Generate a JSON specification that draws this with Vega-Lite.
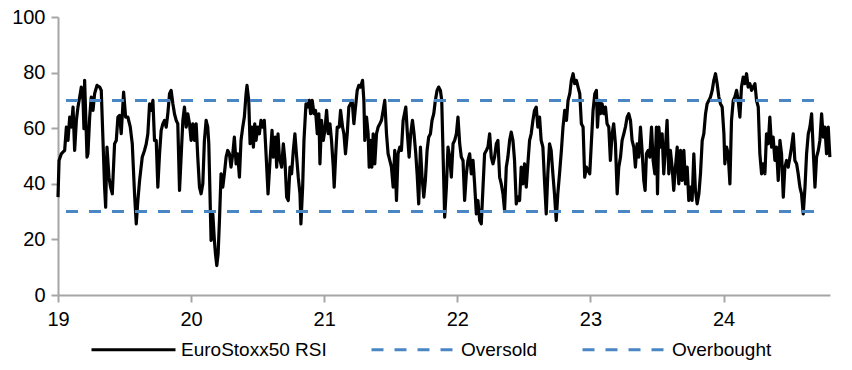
{
  "$schema": "https://vega.github.io/schema/vega-lite/v6.json",
  "width": 772,
  "height": 278,
  "autosize": {"type": "none"},
  "padding": {"left": 58, "top": 17, "right": 22, "bottom": 75},
  "background": "#ffffff",
  "config": {
    "view": {"stroke": null},
    "axis": {
      "grid": false,
      "domainColor": "#a6a6a6",
      "domainWidth": 2,
      "tickColor": "#a6a6a6",
      "tickWidth": 2,
      "tickSize": 7,
      "labelFont": "Liberation Sans",
      "labelFontSize": 20,
      "labelColor": "#000000",
      "title": null
    },
    "legend": {
      "labelFont": "Liberation Sans",
      "labelFontSize": 19,
      "labelColor": "#000000"
    }
  },
  "datasets": {
    "rsi": [
      {"t":19.000,"v":35.2},{"t":19.008,"v":48.4},{"t":19.025,"v":50.8},{"t":19.050,"v":52.0},{"t":19.063,"v":60.4},{"t":19.075,"v":55.6},{"t":19.088,"v":64.0},{"t":19.100,"v":60.4},{"t":19.113,"v":67.6},{"t":19.125,"v":52.0},{"t":19.138,"v":62.8},{"t":19.150,"v":67.6},{"t":19.163,"v":71.2},{"t":19.175,"v":74.8},{"t":19.188,"v":70.0},{"t":19.195,"v":59.8},{"t":19.200,"v":77.2},{"t":19.218,"v":49.6},{"t":19.225,"v":50.8},{"t":19.238,"v":64.0},{"t":19.250,"v":71.2},{"t":19.263,"v":66.4},{"t":19.275,"v":72.4},{"t":19.293,"v":75.4},{"t":19.313,"v":74.8},{"t":19.325,"v":73.6},{"t":19.338,"v":55.6},{"t":19.350,"v":38.8},{"t":19.358,"v":31.6},{"t":19.368,"v":53.2},{"t":19.383,"v":42.4},{"t":19.395,"v":38.8},{"t":19.408,"v":36.4},{"t":19.425,"v":54.4},{"t":19.438,"v":55.6},{"t":19.450,"v":64.0},{"t":19.463,"v":64.6},{"t":19.475,"v":58.0},{"t":19.493,"v":73.0},{"t":19.508,"v":64.0},{"t":19.525,"v":64.0},{"t":19.543,"v":60.4},{"t":19.558,"v":54.4},{"t":19.575,"v":36.4},{"t":19.588,"v":25.6},{"t":19.600,"v":34.0},{"t":19.613,"v":41.2},{"t":19.633,"v":49.6},{"t":19.650,"v":52.0},{"t":19.663,"v":54.4},{"t":19.675,"v":58.0},{"t":19.688,"v":68.8},{"t":19.700,"v":66.4},{"t":19.713,"v":70.0},{"t":19.725,"v":55.6},{"t":19.738,"v":55.6},{"t":19.750,"v":38.8},{"t":19.763,"v":50.8},{"t":19.775,"v":59.2},{"t":19.788,"v":61.6},{"t":19.800,"v":62.8},{"t":19.813,"v":60.4},{"t":19.825,"v":65.2},{"t":19.838,"v":72.4},{"t":19.850,"v":73.6},{"t":19.863,"v":68.8},{"t":19.875,"v":65.2},{"t":19.888,"v":62.8},{"t":19.900,"v":61.6},{"t":19.913,"v":37.6},{"t":19.925,"v":49.6},{"t":19.938,"v":62.8},{"t":19.950,"v":67.6},{"t":19.963,"v":60.4},{"t":19.975,"v":65.2},{"t":19.988,"v":61.6},{"t":20.000,"v":55.6},{"t":20.013,"v":61.6},{"t":20.025,"v":55.6},{"t":20.038,"v":61.6},{"t":20.050,"v":49.6},{"t":20.063,"v":38.8},{"t":20.075,"v":36.4},{"t":20.088,"v":40.0},{"t":20.100,"v":55.6},{"t":20.113,"v":62.8},{"t":20.125,"v":60.4},{"t":20.133,"v":54.4},{"t":20.143,"v":34.0},{"t":20.150,"v":19.6},{"t":20.163,"v":29.2},{"t":20.175,"v":19.6},{"t":20.183,"v":14.8},{"t":20.193,"v":10.6},{"t":20.203,"v":14.8},{"t":20.213,"v":26.8},{"t":20.225,"v":43.6},{"t":20.238,"v":38.8},{"t":20.250,"v":43.6},{"t":20.263,"v":49.6},{"t":20.275,"v":52.0},{"t":20.288,"v":50.8},{"t":20.300,"v":46.0},{"t":20.313,"v":50.8},{"t":20.325,"v":56.8},{"t":20.338,"v":47.2},{"t":20.350,"v":50.8},{"t":20.363,"v":42.4},{"t":20.375,"v":55.6},{"t":20.388,"v":60.4},{"t":20.400,"v":64.0},{"t":20.413,"v":72.4},{"t":20.420,"v":75.4},{"t":20.433,"v":70.0},{"t":20.443,"v":54.4},{"t":20.458,"v":60.4},{"t":20.468,"v":53.2},{"t":20.478,"v":61.6},{"t":20.488,"v":55.6},{"t":20.500,"v":60.4},{"t":20.513,"v":58.0},{"t":20.525,"v":62.8},{"t":20.538,"v":60.4},{"t":20.550,"v":62.8},{"t":20.563,"v":50.8},{"t":20.578,"v":36.4},{"t":20.593,"v":48.4},{"t":20.608,"v":59.2},{"t":20.618,"v":49.6},{"t":20.633,"v":56.8},{"t":20.643,"v":46.0},{"t":20.653,"v":58.0},{"t":20.663,"v":49.6},
      {"t":20.680,"v":46.0},{"t":20.693,"v":54.4},{"t":20.705,"v":48.4},{"t":20.718,"v":35.2},{"t":20.730,"v":34.0},{"t":20.743,"v":46.0},{"t":20.755,"v":43.6},{"t":20.768,"v":52.0},{"t":20.780,"v":58.0},{"t":20.793,"v":49.6},{"t":20.805,"v":42.4},{"t":20.818,"v":36.4},{"t":20.825,"v":25.6},{"t":20.838,"v":38.8},{"t":20.848,"v":55.6},{"t":20.863,"v":68.8},{"t":20.873,"v":67.6},{"t":20.888,"v":70.0},{"t":20.898,"v":65.2},{"t":20.910,"v":70.0},{"t":20.923,"v":65.2},{"t":20.935,"v":66.4},{"t":20.948,"v":58.0},{"t":20.960,"v":65.2},{"t":20.968,"v":47.2},{"t":20.980,"v":62.8},{"t":20.993,"v":55.6},{"t":21.005,"v":59.2},{"t":21.018,"v":66.4},{"t":21.030,"v":58.0},{"t":21.043,"v":61.6},{"t":21.055,"v":55.6},{"t":21.068,"v":46.0},{"t":21.075,"v":38.8},{"t":21.088,"v":52.0},{"t":21.098,"v":60.4},{"t":21.113,"v":60.4},{"t":21.123,"v":66.4},{"t":21.138,"v":60.4},{"t":21.148,"v":58.0},{"t":21.160,"v":50.8},{"t":21.173,"v":58.0},{"t":21.185,"v":67.6},{"t":21.198,"v":68.8},{"t":21.210,"v":70.0},{"t":21.223,"v":61.6},{"t":21.235,"v":67.6},{"t":21.248,"v":73.6},{"t":21.260,"v":75.4},{"t":21.273,"v":74.8},{"t":21.288,"v":77.2},{"t":21.298,"v":70.0},{"t":21.305,"v":55.6},{"t":21.318,"v":64.0},{"t":21.330,"v":58.0},{"t":21.338,"v":46.0},{"t":21.348,"v":55.6},{"t":21.358,"v":46.0},{"t":21.368,"v":58.0},{"t":21.380,"v":47.2},{"t":21.393,"v":58.0},{"t":21.405,"v":60.4},{"t":21.418,"v":61.6},{"t":21.430,"v":62.8},{"t":21.443,"v":66.4},{"t":21.455,"v":70.0},{"t":21.468,"v":58.0},{"t":21.480,"v":50.8},{"t":21.493,"v":48.4},{"t":21.505,"v":46.0},{"t":21.518,"v":38.8},{"t":21.530,"v":52.0},{"t":21.543,"v":34.0},{"t":21.555,"v":50.8},{"t":21.568,"v":53.2},{"t":21.580,"v":52.0},{"t":21.593,"v":62.8},{"t":21.613,"v":67.6},{"t":21.625,"v":58.0},{"t":21.638,"v":49.6},{"t":21.650,"v":58.0},{"t":21.663,"v":62.8},{"t":21.675,"v":58.0},{"t":21.688,"v":50.8},{"t":21.698,"v":43.6},{"t":21.710,"v":32.8},{"t":21.723,"v":53.2},{"t":21.735,"v":42.4},{"t":21.748,"v":35.2},{"t":21.760,"v":41.2},{"t":21.773,"v":52.0},{"t":21.785,"v":56.8},{"t":21.798,"v":58.0},{"t":21.810,"v":62.8},{"t":21.823,"v":65.2},{"t":21.835,"v":70.0},{"t":21.848,"v":73.6},{"t":21.860,"v":74.8},{"t":21.873,"v":73.6},{"t":21.883,"v":70.0},{"t":21.893,"v":50.8},{"t":21.905,"v":28.0},{"t":21.918,"v":38.8},{"t":21.930,"v":53.2},{"t":21.943,"v":49.6},{"t":21.955,"v":42.4},{"t":21.968,"v":54.4},{"t":21.980,"v":55.6},{"t":21.993,"v":58.0},{"t":22.005,"v":64.0},{"t":22.018,"v":54.4},{"t":22.030,"v":49.6},{"t":22.043,"v":48.4},{"t":22.055,"v":34.0},{"t":22.068,"v":43.6},{"t":22.080,"v":48.4},{"t":22.093,"v":50.8},{"t":22.105,"v":43.6},{"t":22.118,"v":48.4},{"t":22.130,"v":40.0},{"t":22.143,"v":29.2},{"t":22.155,"v":34.0},{"t":22.168,"v":26.8},{"t":22.180,"v":25.6},{"t":22.193,"v":38.8},{"t":22.205,"v":50.8},{"t":22.218,"v":52.0},{"t":22.230,"v":53.2},{"t":22.243,"v":58.0},{"t":22.255,"v":49.6},{"t":22.268,"v":47.2},{"t":22.280,"v":49.6},{"t":22.293,"v":54.4},{"t":22.305,"v":55.6},{"t":22.318,"v":42.4},{"t":22.330,"v":40.0},{"t":22.343,"v":36.4},{"t":22.355,"v":30.4},{"t":22.368,"v":46.0},{"t":22.380,"v":49.6},{"t":22.393,"v":55.6},{"t":22.405,"v":58.6},{"t":22.418,"v":55.6},{"t":22.430,"v":48.4},{"t":22.443,"v":32.8},{"t":22.455,"v":35.2},{"t":22.468,"v":34.0},{"t":22.480,"v":46.0},{"t":22.493,"v":40.0},{"t":22.505,"v":47.2},{"t":22.518,"v":38.8},{"t":22.530,"v":47.2},{"t":22.543,"v":55.6},{"t":22.555,"v":58.0},{"t":22.568,"v":62.8},{"t":22.580,"v":66.4},{"t":22.593,"v":67.6},{"t":22.605,"v":60.4},{"t":22.618,"v":64.0},{"t":22.630,"v":55.6},{"t":22.643,"v":53.2},{"t":22.655,"v":41.2},{"t":22.668,"v":29.2},{"t":22.680,"v":43.6},{"t":22.693,"v":54.4},{"t":22.705,"v":52.0},{"t":22.718,"v":43.6},{"t":22.730,"v":36.4},{"t":22.743,"v":26.8},{"t":22.755,"v":36.4},{"t":22.768,"v":43.6},
      {"t":22.782,"v":52.0},{"t":22.794,"v":60.4},{"t":22.807,"v":66.4},{"t":22.820,"v":62.8},{"t":22.832,"v":70.0},{"t":22.845,"v":72.4},{"t":22.857,"v":77.2},{"t":22.870,"v":79.6},{"t":22.882,"v":76.0},{"t":22.895,"v":77.2},{"t":22.907,"v":74.8},{"t":22.920,"v":72.4},{"t":22.932,"v":61.6},{"t":22.945,"v":60.4},{"t":22.957,"v":42.4},{"t":22.970,"v":46.0},{"t":22.982,"v":44.8},{"t":22.995,"v":43.6},{"t":23.008,"v":55.6},{"t":23.020,"v":66.4},{"t":23.033,"v":72.4},{"t":23.045,"v":73.6},{"t":23.053,"v":60.4},{"t":23.065,"v":70.0},{"t":23.075,"v":65.2},{"t":23.088,"v":68.8},{"t":23.100,"v":65.2},{"t":23.113,"v":67.6},{"t":23.125,"v":61.6},{"t":23.138,"v":60.4},{"t":23.150,"v":48.4},{"t":23.163,"v":58.0},{"t":23.175,"v":61.6},{"t":23.188,"v":54.4},{"t":23.201,"v":36.4},{"t":23.213,"v":46.0},{"t":23.226,"v":49.6},{"t":23.238,"v":55.6},{"t":23.251,"v":58.0},{"t":23.263,"v":60.4},{"t":23.276,"v":64.0},{"t":23.288,"v":65.2},{"t":23.301,"v":62.8},{"t":23.313,"v":55.6},{"t":23.326,"v":53.2},{"t":23.338,"v":46.0},{"t":23.351,"v":54.4},{"t":23.363,"v":49.6},{"t":23.376,"v":60.4},{"t":23.388,"v":52.0},{"t":23.401,"v":41.2},{"t":23.411,"v":37.6},{"t":23.421,"v":50.8},{"t":23.434,"v":52.0},{"t":23.446,"v":49.6},{"t":23.459,"v":60.4},{"t":23.471,"v":48.4},{"t":23.484,"v":43.6},{"t":23.496,"v":60.4},{"t":23.504,"v":36.4},{"t":23.514,"v":60.4},{"t":23.526,"v":53.2},{"t":23.539,"v":58.0},{"t":23.551,"v":43.6},{"t":23.564,"v":53.2},{"t":23.576,"v":62.8},{"t":23.589,"v":43.6},{"t":23.601,"v":52.0},{"t":23.614,"v":46.0},{"t":23.626,"v":37.6},{"t":23.639,"v":46.0},{"t":23.652,"v":53.2},{"t":23.664,"v":40.0},{"t":23.677,"v":52.0},{"t":23.689,"v":41.2},{"t":23.702,"v":52.0},{"t":23.714,"v":40.0},{"t":23.727,"v":46.0},{"t":23.739,"v":34.0},{"t":23.752,"v":38.8},{"t":23.764,"v":34.0},{"t":23.777,"v":50.8},{"t":23.789,"v":37.6},{"t":23.802,"v":32.8},{"t":23.815,"v":36.4},{"t":23.827,"v":43.6},{"t":23.840,"v":55.6},{"t":23.852,"v":58.0},{"t":23.865,"v":65.2},{"t":23.877,"v":68.8},{"t":23.890,"v":70.0},{"t":23.902,"v":71.2},{"t":23.915,"v":73.6},{"t":23.927,"v":77.2},{"t":23.940,"v":79.6},{"t":23.952,"v":76.0},{"t":23.965,"v":71.2},{"t":23.977,"v":68.8},{"t":23.990,"v":67.6},{"t":24.003,"v":58.0},{"t":24.010,"v":47.2},{"t":24.023,"v":53.2},{"t":24.035,"v":50.8},{"t":24.048,"v":40.0},{"t":24.060,"v":62.8},{"t":24.073,"v":70.0},{"t":24.085,"v":71.2},{"t":24.098,"v":73.6},{"t":24.110,"v":70.0},{"t":24.123,"v":64.0},{"t":24.135,"v":74.8},{"t":24.148,"v":78.4},{"t":24.160,"v":76.0},{"t":24.173,"v":79.6},{"t":24.185,"v":74.8},{"t":24.198,"v":76.0},{"t":24.211,"v":73.6},{"t":24.223,"v":74.8},{"t":24.236,"v":76.0},{"t":24.248,"v":70.0},{"t":24.261,"v":67.6},{"t":24.273,"v":50.8},{"t":24.286,"v":43.6},{"t":24.298,"v":47.2},{"t":24.311,"v":43.6},{"t":24.323,"v":58.0},{"t":24.336,"v":54.4},{"t":24.348,"v":64.0},{"t":24.361,"v":53.2},{"t":24.373,"v":56.8},{"t":24.386,"v":48.4},{"t":24.398,"v":53.2},{"t":24.411,"v":41.2},{"t":24.424,"v":55.6},{"t":24.436,"v":50.8},{"t":24.449,"v":35.2},{"t":24.461,"v":46.0},{"t":24.474,"v":48.4},{"t":24.486,"v":46.0},{"t":24.499,"v":49.6},{"t":24.511,"v":53.2},{"t":24.524,"v":58.0},{"t":24.536,"v":48.4},{"t":24.549,"v":47.2},{"t":24.561,"v":43.6},{"t":24.574,"v":38.8},{"t":24.586,"v":36.4},{"t":24.599,"v":29.2},{"t":24.612,"v":38.8},{"t":24.624,"v":50.8},{"t":24.637,"v":58.0},{"t":24.649,"v":60.4},{"t":24.662,"v":65.2},{"t":24.674,"v":52.0},{"t":24.687,"v":38.8},{"t":24.699,"v":49.6},{"t":24.712,"v":52.0},{"t":24.724,"v":55.6},{"t":24.737,"v":65.2},{"t":24.749,"v":56.8},{"t":24.762,"v":60.4},{"t":24.774,"v":50.8},{"t":24.787,"v":60.4},{"t":24.799,"v":49.6}
    ],
    "levels": [
      {"t":19.06,"v":30,"s":"Oversold"},{"t":24.74,"v":30,"s":"Oversold"},
      {"t":19.06,"v":70,"s":"Overbought"},{"t":24.74,"v":70,"s":"Overbought"}
    ]
  },
  "encoding": {
    "x": {
      "field": "t", "type": "quantitative",
      "scale": {"domain": [19, 24.8], "nice": false, "zero": false},
      "axis": {"values": [19, 20, 21, 22, 23, 24], "format": "d", "labelFlush": false, "labelPadding": 7}
    },
    "y": {
      "field": "v", "type": "quantitative",
      "scale": {"domain": [0, 100], "nice": false},
      "axis": {"values": [0, 20, 40, 60, 80, 100], "labelPadding": 6}
    }
  },
  "layer": [
    {
      "data": {"name": "rsi"},
      "mark": {"type": "line", "strokeWidth": 3.2, "strokeJoin": "round"},
      "encoding": {
        "color": {
          "datum": "EuroStoxx50 RSI",
          "scale": {"domain": ["EuroStoxx50 RSI", "Oversold", "Overbought"], "range": ["#000000", "#4a86c4", "#4a86c4"]},
          "legend": {
            "title": null, "orient": "none", "direction": "horizontal",
            "legendX": 32, "legendY": 289,
            "symbolType": "stroke", "symbolSize": 7056, "symbolStrokeWidth": 3,
            "columnPadding": 38, "labelOffset": 4
          }
        },
        "strokeDash": {
          "datum": "EuroStoxx50 RSI",
          "scale": {"domain": ["EuroStoxx50 RSI", "Oversold", "Overbought"], "range": [[1, 0], [12, 11], [12, 11]]},
          "legend": {
            "title": null, "orient": "none", "direction": "horizontal",
            "legendX": 32, "legendY": 289,
            "symbolType": "stroke", "symbolSize": 7056, "symbolStrokeWidth": 3,
            "columnPadding": 38, "labelOffset": 4
          }
        }
      }
    },
    {
      "data": {"name": "levels"},
      "mark": {"type": "line", "strokeWidth": 3},
      "encoding": {
        "color": {"field": "s", "type": "nominal", "legend": {"title": null}},
        "strokeDash": {"field": "s", "type": "nominal", "legend": {"title": null}}
      }
    }
  ]
}
